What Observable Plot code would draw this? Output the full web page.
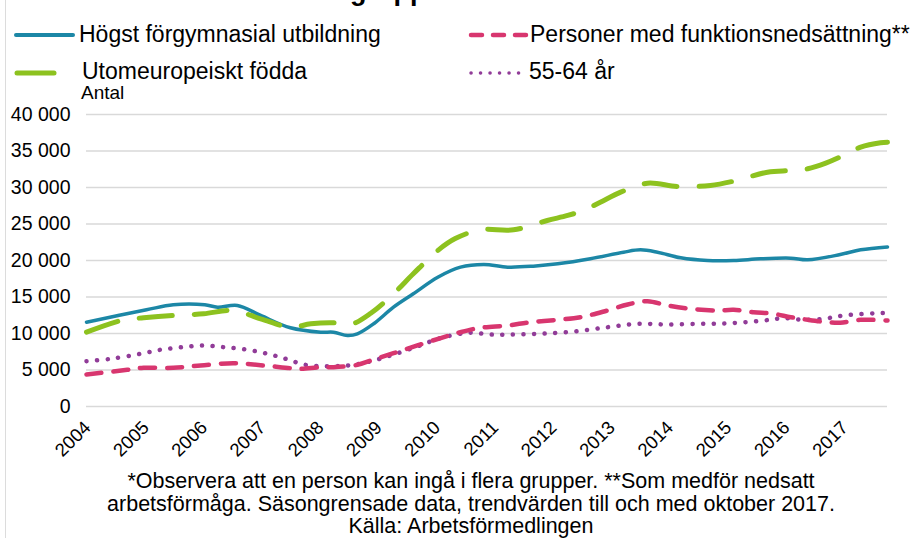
<!DOCTYPE html>
<html>
<head>
<meta charset="utf-8">
<script src="https://cdn.jsdelivr.net/npm/d3@7"></script>
<script src="https://cdn.jsdelivr.net/npm/@observablehq/plot@0.6"></script>
<style>
  body { margin: 0; background: #fff; }
  #wrap { position: relative; width: 914px; height: 538px; overflow: hidden; font-family: "Liberation Sans", Arial, sans-serif; color: #000; }
  #leftline { position: absolute; left: 5px; top: 0; bottom: 0; border-left: 1px solid #dcdcdc; }
  #title { position: absolute; top: -24px; font-weight: bold; font-size: 27px; white-space: nowrap; }
  .leg { position: absolute; font-size: 23px; line-height: 24px; white-space: nowrap; }
  .sw { position: absolute; }
  #antal { position: absolute; left: 81px; top: 83px; font-size: 19px; line-height: 20px; }
  #chart { position: absolute; left: 0; top: 85px; }
  #caption { position: absolute; left: 0; width: 942px; top: 470px; text-align: center; font-size: 21.5px; line-height: 22.5px; white-space: nowrap; }
</style>
</head>
<body>
<div id="wrap">
  <div id="leftline"></div>
  <div id="title">Inskrivna arbetslösa i olika grupper*</div>

  <svg class="sw" style="left:0;top:0" width="914" height="90">
    <line x1="16" y1="35" x2="73" y2="35" stroke="#1c87a6" stroke-width="4" stroke-linecap="round"/>
    <line x1="471" y1="35" x2="526" y2="35" stroke="#d8366f" stroke-width="4.5" stroke-linecap="round" stroke-dasharray="11,11"/>
    <line x1="17" y1="73" x2="54" y2="73" stroke="#8dc21f" stroke-width="5" stroke-linecap="round"/>
    <line x1="471" y1="73" x2="519" y2="73" stroke="#913c98" stroke-width="3.5" stroke-linecap="round" stroke-dasharray="0.1,9.4"/>
  </svg>
  <div class="leg" style="left:79px;top:22px">Högst förgymnasial utbildning</div>
  <div class="leg" style="left:530px;top:22px">Personer med funktionsnedsättning**</div>
  <div class="leg" style="left:82px;top:59px">Utomeuropeiskt födda</div>
  <div class="leg" style="left:529px;top:59px">55-64 år</div>
  <div id="antal">Antal</div>

  <div id="chart"></div>

  <div id="caption">*Observera att en person kan ingå i flera grupper. **Som medför nedsatt<br>arbetsförmåga. Säsongrensade data, trendvärden till och med oktober 2017.<br>Källa: Arbetsförmedlingen</div>
</div>
<script>
// ---- Data ----
const seriesNames = ["Högst förgymnasial utbildning", "Personer med funktionsnedsättning**", "Utomeuropeiskt födda", "55-64 år"];

const forgymYears = [2004.00,2005.03,2005.49,2006.03,2006.25,2006.59,2006.99,2007.50,2008.02,2008.24,2008.48,2008.65,2008.93,2009.27,2009.61,2010.03,2010.42,2010.82,2011.23,2011.67,2012.09,2012.65,2013.22,2013.51,2013.80,2014.20,2014.66,2015.11,2015.57,2016.09,2016.38,2016.94,2017.29,2017.75];
const forgymValues = [11550,13250,13930,13930,13600,13840,12470,10780,10180,10180,9730,9950,11330,13600,15440,17710,19090,19450,19090,19220,19540,20230,21140,21460,21140,20370,20000,20000,20230,20320,20090,20820,21460,21850];

const funktYears = [2004.00,2004.70,2004.98,2005.49,2005.96,2006.52,2007.04,2007.50,2007.67,2008.02,2008.24,2008.65,2008.88,2009.27,2009.68,2010.08,2010.42,2010.76,2011.23,2011.62,2012.09,2012.48,2012.94,2013.29,2013.63,2013.97,2014.37,2014.83,2015.11,2015.45,2015.79,2016.09,2016.38,2016.72,2016.94,2017.29,2017.75];
const funktValues = [4380,5030,5300,5300,5620,5940,5620,5250,5160,5390,5390,5710,6300,7300,8360,9380,10180,10780,11100,11550,11880,12230,13150,13970,14430,13840,13380,13150,13240,12920,12700,12230,11880,11550,11470,11880,11780];

const utomYears = [2004.00,2004.64,2004.98,2005.49,2006.01,2006.52,2006.99,2007.50,2007.85,2008.24,2008.53,2008.88,2009.27,2009.61,2010.03,2010.33,2010.76,2011.33,2011.91,2012.26,2012.53,2012.82,2013.17,2013.63,2014.15,2014.71,2015.11,2015.69,2016.09,2016.38,2016.69,2017.03,2017.29,2017.63,2017.75];
const utomValues = [10180,11880,12150,12470,12700,13150,12010,10860,11330,11470,11230,12780,15440,18180,21370,23000,24200,24200,25480,26170,26850,27990,29360,30590,30140,30280,30870,32100,32330,32560,33330,34520,35530,36130,36200];

const aldreYears = [2004.00,2004.41,2004.93,2005.27,2005.65,2006.01,2006.35,2006.73,2007.11,2007.42,2007.76,2008.14,2008.48,2008.82,2009.22,2009.68,2010.08,2010.59,2010.94,2011.28,2011.79,2012.36,2012.94,2013.46,2013.97,2014.54,2015.06,2015.62,2015.97,2016.31,2016.65,2017.00,2017.58,2017.75];
const aldreValues = [6210,6530,7220,7770,8130,8360,8130,7810,7220,6530,5710,5520,5620,6070,6990,8220,9380,10100,9860,9860,9960,10270,10860,11330,11230,11330,11410,11780,12100,11880,12010,12470,12780,12800];

const yTicks = [0, 5000, 10000, 15000, 20000, 25000, 30000, 35000, 40000];
const yTickLabels = ["0", "5 000", "10 000", "15 000", "20 000", "25 000", "30 000", "35 000", "40 000"];
const xTicks = [2004, 2005, 2006, 2007, 2008, 2009, 2010, 2011, 2012, 2013, 2014, 2015, 2016, 2017];
const xTickLabels = ["2004", "2005", "2006", "2007", "2008", "2009", "2010", "2011", "2012", "2013", "2014", "2015", "2016", "2017"];

// ---- Build table ----
function rows(name, ys, vs) { return ys.map((y, i) => ({serie: name, year: y, value: vs[i]})); }
const forgym = rows(seriesNames[0], forgymYears, forgymValues);
const funkt = rows(seriesNames[1], funktYears, funktValues);
const utom = rows(seriesNames[2], utomYears, utomValues);
const aldre = rows(seriesNames[3], aldreYears, aldreValues);

const chart = Plot.plot({
  width: 914,
  height: 385,
  marginLeft: 86,
  marginRight: 27,
  marginTop: 29,
  marginBottom: 64,
  style: {fontFamily: "'Liberation Sans', Arial, sans-serif", fontSize: "19.5px", color: "#000", background: "transparent", overflow: "visible"},
  x: {domain: [2004, 2017.75], axis: null},
  y: {domain: [0, 40000]},
  marks: [
    Plot.gridY(yTicks, {stroke: "#d9d9d9", strokeOpacity: 1, strokeWidth: 1.5}),
    Plot.axisY(yTicks, {tickSize: 0, tickPadding: 16, fontSize: 19.5, label: null,
      tickFormat: d => yTickLabels[yTicks.indexOf(d)]}),
    Plot.text(xTicks, {x: d => d, frameAnchor: "bottom", text: d => xTickLabels[xTicks.indexOf(d)],
      rotate: -45, textAnchor: "end", lineAnchor: "middle", fontSize: 18.5, dx: 1, dy: 18, fill: "#000"}),
    Plot.line(aldre, {x: "year", y: "value", stroke: "#913c98", strokeWidth: 4.5, strokeLinecap: "round", strokeDasharray: "0.1,10.5", curve: "catmull-rom"}),
    Plot.line(funkt, {x: "year", y: "value", stroke: "#d8366f", strokeWidth: 4.5, strokeLinecap: "round", strokeDasharray: "15,12", curve: "catmull-rom"}),
    Plot.line(forgym, {x: "year", y: "value", stroke: "#1c87a6", strokeWidth: 3.5, curve: "catmull-rom"}),
    Plot.line(utom, {x: "year", y: "value", stroke: "#8dc21f", strokeWidth: 5, strokeLinecap: "round", strokeDasharray: "33,22", curve: "catmull-rom"})
  ]
});
document.getElementById("chart").appendChild(chart);

// Position the clipped title so that "grupper" starts near x = 350
(function () {
  const t = document.getElementById("title");
  const full = t.textContent;
  const prefix = full.slice(0, full.indexOf("grupper"));
  const c = document.createElement("canvas").getContext("2d");
  c.font = "bold 27px 'Liberation Sans', Arial, sans-serif";
  const w = c.measureText(prefix).width;
  t.style.left = (350 - w) + "px";
})();
</script>
</body>
</html>
